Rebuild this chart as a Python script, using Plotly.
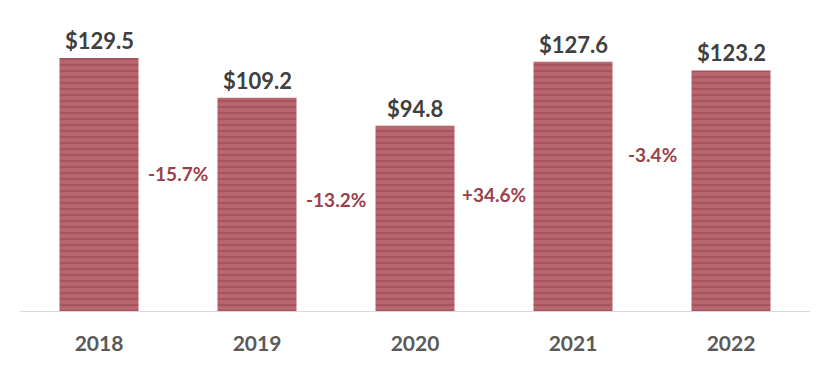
import plotly.graph_objects as go

years = ["2018", "2019", "2020", "2021", "2022"]
values = [129.5, 109.2, 94.8, 127.6, 123.2]
value_labels = ["$129.5", "$109.2", "$94.8", "$127.6", "$123.2"]
changes = ["-15.7%", "-13.2%", "+34.6%", "-3.4%"]
change_y = [70.5, 57.0, 59.5, 80.0]

fig = go.Figure()
fig.add_trace(go.Bar(
    x=years, y=values, width=0.5,
    marker=dict(
        color="#b05c67",
        line=dict(width=0),
        pattern=dict(shape="-", fgcolor="#983f4b", bgcolor="#b8666f", size=6, solidity=0.4),
    ),
    hoverinfo="skip",
))

ann = []
for i, (v, t) in enumerate(zip(values, value_labels)):
    ann.append(dict(x=i, y=v, text=f"<b>{t}</b>", showarrow=False, yanchor="bottom",
                    yshift=2, font=dict(family="Lato", size=22, color="#404040")))
for i, (c, yv) in enumerate(zip(changes, change_y)):
    ann.append(dict(x=i + 0.5, y=yv, text=f"<b>{c}</b>", showarrow=False,
                    font=dict(family="Lato", size=19, color="#9b3f4a")))

fig.update_layout(
    width=830, height=372,
    margin=dict(l=12, r=28, t=12, b=69),
    plot_bgcolor="white", paper_bgcolor="white",
    showlegend=False,
    annotations=ann,
    bargap=0.5,
    xaxis=dict(showline=True, linecolor="#d9d9d9", linewidth=1, showgrid=False,
               tickfont=dict(family="Lato", size=21, color="#595959"),
               ticklabelstandoff=14, ticks="",
               tickvals=years, ticktext=[f"<b>{y}</b>" for y in years]),
    yaxis=dict(range=[0, 149], visible=False, showgrid=False, zeroline=False),
)

fig.write_html("out.html")
